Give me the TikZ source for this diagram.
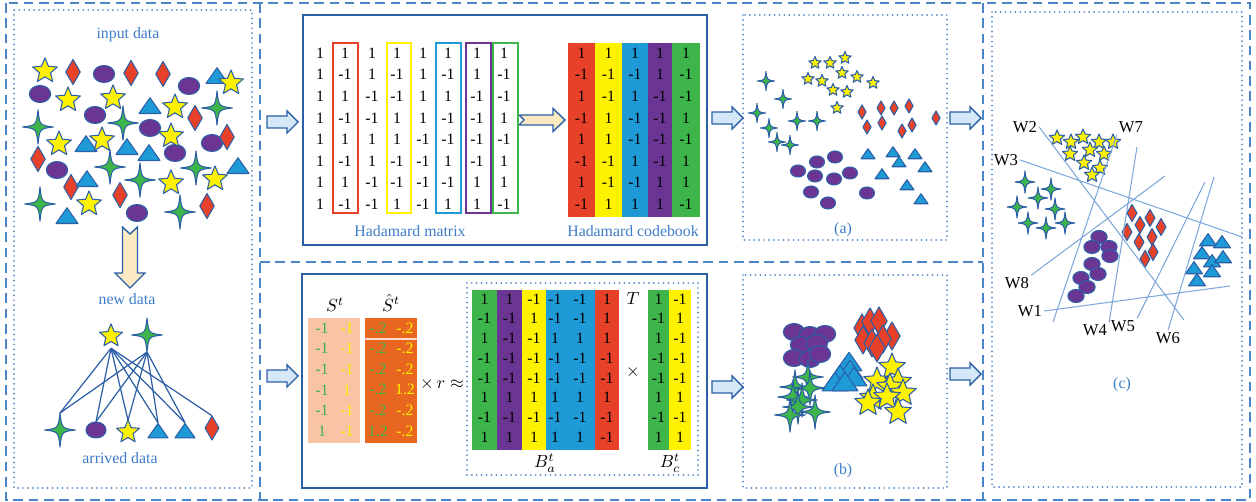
\documentclass[tikz,border=0pt]{standalone}
\usepackage{fontspec}
\setmainfont{Liberation Serif}

\definecolor{hred}{HTML}{E8412A}
\definecolor{hyellow}{HTML}{FFF200}
\definecolor{hblue}{HTML}{1E9BD7}
\definecolor{hpurple}{HTML}{6B3594}
\definecolor{hgreen}{HTML}{3DB54A}
\definecolor{frameblue}{HTML}{4A86C8}
\definecolor{txtblue}{HTML}{3D7CC9}
\definecolor{edgeblue}{HTML}{2B5FA6}
\definecolor{wline}{HTML}{7FA8DA}
\definecolor{peach}{HTML}{F9C4A6}
\definecolor{rust}{HTML}{E8661F}
\definecolor{cream}{HTML}{FCEBC2}
\definecolor{arrowfill}{HTML}{D4E8F7}

\tikzset{
  shp/.style={draw=edgeblue, line width=0.6pt, line join=round},
  % the five kinds of data points
  pics/ystar/.style={code={\draw[shp, fill=hyellow] (0,-#1)
      \foreach \k in {1,...,9} { -- ({-90+36*\k}:{ifthenelse(mod(\k,2)==1,0.45,1)*#1}) } -- cycle;}},
  pics/rdia/.style={code={\draw[shp, fill=hred] (0,-#1) -- (0.58*#1,0) -- (0,#1) -- (-0.58*#1,0) -- cycle;}},
  pics/pell/.style={code={\draw[shp, fill=hpurple] (0,0) ellipse [x radius=1.25*#1, y radius=#1];}},
  pics/ctri/.style={code={\draw[shp, fill=hblue] (0,-0.75*#1) -- (#1,0.68*#1) -- (-#1,0.68*#1) -- cycle;}},
  pics/gspk/.style={code={\draw[shp, fill=hgreen] (0,-#1) .. controls (0.1*#1,-0.1*#1) .. (0.9*#1,0)
      .. controls (0.1*#1,0.1*#1) .. (0,#1) .. controls (-0.1*#1,0.1*#1) .. (-0.9*#1,0)
      .. controls (-0.1*#1,-0.1*#1) .. (0,-#1) -- cycle;}},
  pics/barrow/.style={code={\draw[draw=edgeblue, fill=arrowfill, line width=0.8pt]
      (0,-6) -- (20,-6) -- (20,-11) -- (31,0) -- (20,11) -- (20,6) -- (0,6) -- cycle;}},
}

\begin{document}
\begin{tikzpicture}[x=0.02cm, y=-0.02cm,
    framedash/.style={frameblue, line width=1.1pt, dash pattern=on 5.5pt off 3.2pt},
    framedot/.style={frameblue, line width=1.1pt, line cap=round, dash pattern=on 0pt off 2.8pt},
    box/.style={edgeblue, line width=0.9pt},
    lbl/.style={font=\fontsize{9}{10}\selectfont, text=txtblue},
    num/.style={font=\fontsize{9}{10}\selectfont, inner sep=0pt},
    mlbl/.style={inner sep=0.5pt},
    wlbl/.style={font=\fontsize{9.5}{10}\selectfont, inner sep=1pt},
    spot/.style={inner sep=0pt, minimum width=8pt, minimum height=#1},
    link/.style={edgeblue, line width=0.7pt},
    wcut/.style={wline, line width=0.6pt}]
  \useasboundingbox (0,0) rectangle (1256,502);

  % frames
  \draw[framedash] (6,3) rectangle (1250,500);
  \draw[framedash] (260,3) -- (260,500)
                   (983,3) -- (983,500)
                   (260,262) -- (983,262);
  \draw[framedot] (14,10) rectangle (252,488)
                  (992,12) rectangle (1242,487)
                  (743,15) rectangle (947,240)
                  (743,275) rectangle (947,488)
                  (467,283) rectangle (698,475);
  \draw[box] (303,15) rectangle (707,245)
             (302,274) rectangle (707,488);

  % block arrows between the stages
  \foreach \x/\y in {267/122, 712/118, 950/118, 267/376, 712/387, 950/374}
    \pic at (\x,\y) {barrow};
  \draw[edgeblue, fill=cream, line width=0.8pt]
    (519,115) -- (553,115) -- (553,108.5) -- (565,120) -- (553,131.5) -- (553,125) -- (519,125) -- (524,120) -- cycle;
  \draw[edgeblue, fill=cream, line width=0.8pt]
    (122.5,227) -- (130,234) -- (137.5,227) -- (137.5,273) -- (145,273) -- (130,288) -- (115,273) -- (122.5,273) -- cycle;

  %% input data
  \node[lbl] (inlbl) at (128,35) {input data};
  \foreach \x/\y in {38/127, 123/123, 217/108, 110/167, 140/180, 196/168, 40/204, 180/212}
    \pic at (\x,\y) {gspk=17};
  \foreach \x/\y in {104/74, 40/94, 189/86, 95/115, 150/128, 212/143, 175/153, 57/170, 137/213}
    \pic at (\x,\y) {pell=8.5};
  \foreach \x/\y in {73/72, 131/73, 163/74, 195/118, 227/137, 38/159, 71/187, 120/195, 207/206}
    \pic at (\x,\y) {rdia=12.5};
  \foreach \x/\y in {217/76, 150/106, 86/144, 127/147, 149/153, 87/179, 238/166, 67/216}
    \pic at (\x,\y) {ctri=11};
  \foreach \x/\y in {45/71, 68/100, 113/98, 175/107, 231/83, 59/144, 102/140, 171/136, 171/183, 215/179, 89/204}
    \pic at (\x,\y) {ystar=13};

  %% new data and the data it arrives on
  \node[lbl] (newlbl) at (127,299) {new data};
  \node[spot=13.6pt] (new1) at (111,336) {};
  \node[spot=19pt]   (new2) at (147,335) {};
  \node[spot=19pt]   (arr1) at (60,430) {};
  \node[spot=9pt]    (arr2) at (96,430) {};
  \node[spot=13pt]   (arr3) at (128,432) {};
  \node[spot=9pt]    (arr4) at (158,431) {};
  \node[spot=9pt]    (arr5) at (185,431) {};
  \node[spot=13.6pt] (arr6) at (212,428) {};
  \foreach \a in {1,...,6}
    \draw[link] (new1.south) -- (arr\a.north);
  \foreach \a in {1,...,5}
    \draw[link] (new2.south) -- (arr\a.north);
  \pic at (new1) {ystar=12};
  \pic at (new2) {gspk=17};
  \pic at (arr1) {gspk=17};
  \pic at (arr2) {pell=8};
  \pic at (arr3) {ystar=12};
  \pic at (arr4) {ctri=10};
  \pic at (arr5) {ctri=10};
  \pic at (arr6) {rdia=12};
  \node[lbl] (arrlbl) at (120,458) {arrived data};

  %% Hadamard matrix
  \draw[hred, line width=0.8pt]    (333,43) rectangle (358,213);
  \draw[hyellow, line width=0.8pt] (387,43) rectangle (411,213);
  \draw[hblue, line width=0.8pt]   (436,43) rectangle (461,213);
  \draw[hpurple, line width=0.8pt] (466,43) rectangle (491,213);
  \draw[hgreen, line width=0.8pt]  (493,43) rectangle (518,213);
  \foreach \x/\col [count=\c] in {320/{1,1,1,1,1,1,1,1}, 345/{1,-1,1,-1,1,-1,1,-1},
      372/{1,1,-1,-1,1,1,-1,-1}, 397/{1,-1,-1,1,1,-1,-1,1}, 423/{1,1,1,1,-1,-1,-1,-1},
      448/{1,-1,1,-1,-1,1,-1,1}, 477/{1,1,-1,-1,-1,-1,1,1}, 504/{1,-1,-1,1,-1,1,1,-1}}
    \foreach \v [count=\r] in \col
      \node[num] (h\c-\r) at (\x,{31.5+21.6*\r}) {\v};
  \node[lbl] (hmlbl) at (410,231) {Hadamard matrix};

  %% Hadamard codebook
  \fill[hred]    (568,43) rectangle (595,217);
  \fill[hyellow] (595,43) rectangle (622,217);
  \fill[hblue]   (622,43) rectangle (648,217);
  \fill[hpurple] (648,43) rectangle (672,217);
  \fill[hgreen]  (672,43) rectangle (700,217);
  \foreach \x/\col [count=\c] in {581.5/{1,-1,1,-1,1,-1,1,-1}, 608.5/{1,-1,-1,1,1,-1,-1,1},
      635/{1,-1,1,-1,-1,1,-1,1}, 660/{1,1,-1,-1,-1,-1,1,1}, 686/{1,-1,-1,1,-1,1,1,-1}}
    \foreach \v [count=\r] in \col
      \node[num] (cb\c-\r) at (\x,{31.5+21.6*\r}) {\v};
  \node[lbl] (cblbl) at (633,231) {Hadamard codebook};

  %% (a) codes of the known classes
  \foreach \x/\y in {766/81, 783/99, 757/113, 797/121, 817/121, 769/128, 777/142, 790/145}
    \pic at (\x,\y) {gspk=9.5};
  \foreach \x/\y in {815/63, 830/63, 845/58, 808/79, 822/81, 842/73, 857/77, 873/83, 833/90, 847/92, 837/108}
    \pic at (\x,\y) {ystar=6.5};
  \foreach \x/\y in {862/112, 881/108, 894/108, 909/106, 936/118, 867/127, 882/123, 912/125, 902/131}
    \pic at (\x,\y) {rdia=7};
  \foreach \x/\y in {817/162, 835/157, 798/171, 815/176, 834/179, 850/173, 811/192, 828/203, 867/193}
    \pic at (\x,\y) {pell=6};
  \foreach \x/\y in {868/154, 893/152, 915/154, 899/162, 925/167, 882/174, 907/185, 921/199}
    \pic at (\x,\y) {ctri=7};
  \node[lbl] (alabel) at (843,230) {(a)};

  %% sign matrices and the code approximation
  \fill[peach] (308,318) rectangle (360,443);
  \fill[rust]  (365,318) rectangle (417,443);
  \draw[peach!60, line width=0.6pt] (365,339) -- (417,339);
  \node[mlbl] (Slbl)  at (335,305) {$S^t$};
  \node[mlbl] (Shlbl) at (391,303) {$\hat{S}^t$};
  \foreach \x/\tc/\col [count=\c] in {322/hgreen/{-1,-1,-1,-1,-1,1}, 347/hyellow/{-1,-1,-1,1,-1,-1},
      378/hgreen/{-.2,-.2,-.2,-.2,-.2,1.2}, 405/hyellow/{-.2,-.2,-.2,1.2,-.2,-.2}}
    \foreach \v [count=\r] in \col
      \node[num, text=\tc] (s\c-\r) at (\x,{307.4+20.6*\r}) {\v};
  \node (approx) at (442,384) {$\times\, r \approx$};

  \fill[hgreen]  (472,290) rectangle (497,450);
  \fill[hpurple] (497,290) rectangle (522,450);
  \fill[hyellow] (522,290) rectangle (546,450);
  \fill[hblue]   (546,290) rectangle (595,450);
  \fill[hred]    (595,290) rectangle (619,450);
  \fill[hgreen]  (648,290) rectangle (669,450);
  \fill[hyellow] (669,290) rectangle (691,450);
  \foreach \x/\col [count=\c] in {484.5/{1,-1,1,-1,-1,1,-1,1}, 509.5/{1,-1,-1,-1,-1,1,-1,1},
      534/{-1,1,-1,-1,-1,1,-1,1}, 555/{-1,-1,1,-1,-1,1,-1,1}, 580/{-1,-1,1,-1,-1,1,-1,1},
      607/{1,1,1,-1,-1,1,-1,-1}, 658.5/{1,-1,1,-1,-1,1,-1,1}, 680/{-1,1,-1,-1,-1,1,-1,1}}
    \foreach \v [count=\r] in \col
      \node[num] (b\c-\r) at (\x,{279.3+19.7*\r}) {\v};
  \node[mlbl] (tlbl)  at (633,298) {$T$};
  \node[mlbl] (times) at (633,372) {$\times$};
  \node[mlbl] (Balbl) at (545,463) {$B^t_a$};
  \node[mlbl] (Bclbl) at (670,463) {$B^t_c$};

  %% (b) codes of the new data
  \foreach \x/\y in {794/332, 810/335, 825/334, 801/345, 817/343, 794/358, 810/359, 820/354}
    \pic at (\x,\y) {pell=8.5};
  \foreach \x/\y in {862/328, 870/322, 879/321, 892/336, 863/340, 872/343, 883/339, 877/348}
    \pic at (\x,\y) {rdia=14};
  \foreach \x/\y in {849/362, 850/370, 840/375, 854/377, 835/382, 845/382}
    \pic at (\x,\y) {ctri=13};
  \foreach \x/\y in {808/377, 795/387, 810/388, 793/397, 802/400, 798/407, 815/412, 790/415}
    \pic at (\x,\y) {gspk=17};
  \foreach \x/\y in {892/367, 877/381, 898/382, 890/387, 903/393, 873/398, 887/397, 868/403, 898/412}
    \pic at (\x,\y) {ystar=14};
  \node[lbl] (blabel) at (843,471) {(b)};

  %% (c) classification by the hyperplanes
  \foreach \x/\y in {1057/138, 1071/142, 1083/137, 1099/142, 1113/142, 1070/154, 1090/150,
      1104/154, 1084/163, 1100/168, 1092/175}
    \pic at (\x,\y) {ystar=8};
  \foreach \x/\y in {1025/182, 1051/189, 1038/198, 1017/207, 1055/209, 1028/223, 1046/228, 1065/223}
    \pic at (\x,\y) {gspk=11};
  \foreach \x/\y in {1132/213, 1150/218, 1140/225, 1127/232, 1161/227, 1139/242, 1152/237, 1153/252, 1145/259}
    \pic at (\x,\y) {rdia=8.5};
  \foreach \x/\y in {1099/237, 1092/247, 1109/247, 1110/256, 1092/264, 1098/274, 1081/278, 1087/287, 1076/296}
    \pic at (\x,\y) {pell=6.5};
  \foreach \x/\y in {1208/240, 1222/242, 1202/253, 1212/261, 1223/257, 1194/268, 1212/271, 1197/280}
    \pic at (\x,\y) {ctri=8.5};

  \node[wlbl] (W1) at (1030,311) {W1};
  \node[wlbl] (W2) at (1025,127) {W2};
  \node[wlbl] (W3) at (1006,160) {W3};
  \node[wlbl] (W4) at (1095,330) {W4};
  \node[wlbl] (W5) at (1123,326) {W5};
  \node[wlbl] (W6) at (1168,338) {W6};
  \node[wlbl] (W7) at (1131,127) {W7};
  \node[wlbl] (W8) at (1017,283) {W8};
  \coordinate (w1end) at (1230,286);
  \coordinate (w2end) at (1184,320);
  \coordinate (w3end) at (1242,237);
  \coordinate (w4end) at (1137,147);
  \coordinate (w5end) at (1205,182);
  \coordinate (w6end) at (1214,177);
  \coordinate (w7end) at (1053,322);
  \coordinate (w8end) at (1165,176);
  \draw[wcut] (W1.east) -- (w1end)
              (W2.east) -- (w2end)
              (W3.east) -- (w3end)
              (W4.north east) -- (w4end)
              (W5.north east) -- (w5end)
              (W6.north) -- (w6end)
              (W7.south west) -- (w7end)
              (W8.north east) -- (w8end);
  \node[lbl] (clabel) at (1122,385) {(c)};
\end{tikzpicture}
\end{document}
